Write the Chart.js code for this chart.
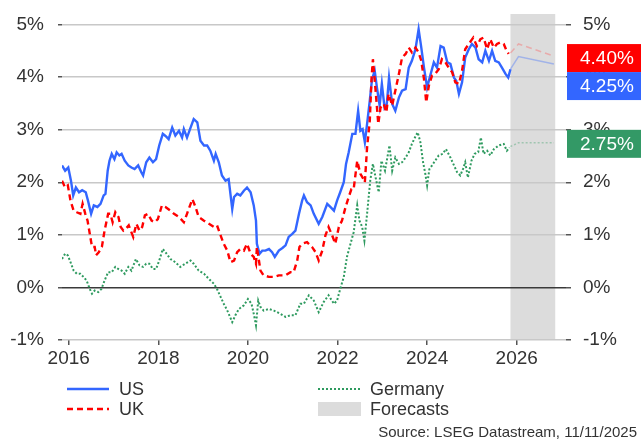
<!DOCTYPE html>
<html>
<head>
<meta charset="utf-8">
<script src="https://cdn.jsdelivr.net/npm/chart.js@4.4.1/dist/chart.umd.min.js"></script>
<style>
  html, body { margin: 0; padding: 0; background: #ffffff; }
  canvas { display: block; }
</style>
</head>
<body>
<canvas id="c" width="641" height="441"></canvas>
<script>
// ---- Data (decimal years, 10-year government bond yields, %) ----
const usDates = [2015.85,2015.92,2015.99,2016.05,2016.10,2016.16,2016.23,2016.30,2016.38,2016.43,2016.50,2016.56,2016.64,2016.71,2016.78,2016.82,2016.87,2016.91,2016.96,2017.02,2017.07,2017.13,2017.18,2017.25,2017.33,2017.40,2017.47,2017.55,2017.62,2017.66,2017.73,2017.80,2017.88,2017.95,2018.02,2018.10,2018.16,2018.23,2018.31,2018.38,2018.46,2018.53,2018.57,2018.64,2018.72,2018.79,2018.87,2018.94,2019.02,2019.09,2019.16,2019.24,2019.28,2019.35,2019.42,2019.50,2019.57,2019.65,2019.69,2019.76,2019.83,2019.91,2019.98,2020.06,2020.13,2020.18,2020.20,2020.26,2020.32,2020.39,2020.47,2020.54,2020.60,2020.69,2020.77,2020.84,2020.91,2020.99,2021.06,2021.14,2021.21,2021.25,2021.32,2021.40,2021.47,2021.58,2021.66,2021.77,2021.84,2021.92,2021.99,2022.06,2022.14,2022.19,2022.25,2022.33,2022.40,2022.46,2022.51,2022.56,2022.61,2022.66,2022.72,2022.77,2022.83,2022.88,2022.94,2022.99,2023.05,2023.10,2023.15,2023.22,2023.29,2023.37,2023.44,2023.52,2023.59,2023.66,2023.74,2023.81,2023.87,2023.93,2024.00,2024.07,2024.15,2024.22,2024.30,2024.37,2024.45,2024.52,2024.60,2024.65,2024.71,2024.78,2024.85,2024.93,2025.00,2025.08,2025.15,2025.23,2025.30,2025.38,2025.45,2025.52,2025.60,2025.67,2025.75,2025.81,2025.86];
const usYields = [2.32,2.22,2.28,2.03,1.75,1.90,1.81,1.85,1.81,1.65,1.40,1.56,1.53,1.59,1.75,1.78,2.22,2.41,2.54,2.44,2.57,2.51,2.54,2.41,2.32,2.28,2.25,2.32,2.19,2.13,2.38,2.47,2.38,2.44,2.70,2.92,2.88,2.82,3.04,2.89,2.98,2.85,3.01,2.85,3.04,3.20,3.14,2.79,2.70,2.70,2.60,2.41,2.54,2.38,2.13,2.03,2.06,1.49,1.72,1.78,1.75,1.84,1.90,1.81,1.56,1.27,0.83,0.64,0.70,0.70,0.73,0.67,0.58,0.70,0.75,0.80,0.96,1.02,1.08,1.40,1.65,1.75,1.62,1.56,1.40,1.21,1.34,1.59,1.53,1.46,1.65,1.81,2.00,2.35,2.57,2.92,2.92,3.36,2.98,3.01,2.76,3.11,3.55,3.96,4.12,3.80,3.46,3.87,3.42,3.49,3.99,3.49,3.36,3.61,3.74,3.77,4.18,4.31,4.53,4.91,4.56,4.18,3.80,4.03,4.28,4.18,4.59,4.56,4.28,4.25,3.99,3.93,3.68,3.90,4.37,4.53,4.63,4.56,4.34,4.28,4.50,4.31,4.50,4.31,4.28,4.18,4.06,3.99,4.15];

const ukDates = [2015.85,2015.92,2015.98,2016.04,2016.11,2016.18,2016.26,2016.31,2016.37,2016.42,2016.47,2016.52,2016.58,2016.61,2016.67,2016.74,2016.80,2016.88,2016.93,2016.98,2017.04,2017.11,2017.16,2017.22,2017.27,2017.34,2017.44,2017.51,2017.58,2017.64,2017.70,2017.77,2017.85,2017.92,2017.99,2018.08,2018.16,2018.27,2018.35,2018.46,2018.57,2018.64,2018.76,2018.83,2018.90,2019.02,2019.13,2019.24,2019.31,2019.39,2019.46,2019.54,2019.61,2019.69,2019.76,2019.83,2019.91,2019.98,2020.06,2020.13,2020.18,2020.20,2020.28,2020.35,2020.47,2020.58,2020.69,2020.84,2020.95,2021.02,2021.10,2021.15,2021.21,2021.32,2021.43,2021.51,2021.58,2021.66,2021.73,2021.80,2021.88,2021.95,2022.03,2022.10,2022.18,2022.25,2022.31,2022.36,2022.44,2022.51,2022.56,2022.61,2022.66,2022.72,2022.76,2022.79,2022.85,2022.91,2022.96,2023.03,2023.09,2023.14,2023.22,2023.29,2023.37,2023.44,2023.52,2023.59,2023.66,2023.74,2023.81,2023.87,2023.93,2023.98,2024.04,2024.11,2024.18,2024.26,2024.33,2024.41,2024.48,2024.56,2024.63,2024.71,2024.78,2024.85,2024.93,2025.03,2025.11,2025.19,2025.26,2025.34,2025.41,2025.49,2025.56,2025.64,2025.71,2025.76,2025.82];
const ukYields = [2.03,1.90,1.94,1.65,1.46,1.43,1.40,1.59,1.40,1.27,1.02,0.77,0.77,0.61,0.67,0.77,1.08,1.40,1.40,1.24,1.43,1.34,1.15,1.08,1.11,1.18,0.96,1.21,1.08,1.15,1.37,1.40,1.27,1.24,1.30,1.56,1.53,1.46,1.40,1.34,1.24,1.40,1.68,1.53,1.34,1.27,1.21,1.15,1.18,0.99,0.83,0.70,0.48,0.51,0.67,0.73,0.70,0.83,0.64,0.58,0.45,0.77,0.32,0.23,0.20,0.20,0.23,0.23,0.29,0.29,0.51,0.77,0.83,0.86,0.77,0.67,0.51,0.70,0.99,1.15,0.99,0.83,1.15,1.27,1.53,1.72,1.87,1.87,2.41,2.16,2.09,2.00,2.66,3.17,3.99,4.34,3.74,3.11,3.42,3.49,3.33,3.68,3.46,3.74,4.06,4.37,4.44,4.56,4.47,4.56,4.47,4.31,3.96,3.52,3.84,4.03,4.06,4.15,4.34,4.28,4.18,4.09,3.90,3.87,4.12,4.53,4.63,4.75,4.59,4.72,4.75,4.53,4.72,4.56,4.63,4.66,4.63,4.53,4.44];

const deDates = [2015.85,2015.92,2015.98,2016.04,2016.11,2016.18,2016.26,2016.33,2016.40,2016.47,2016.52,2016.58,2016.66,2016.73,2016.80,2016.88,2016.96,2017.04,2017.11,2017.18,2017.25,2017.33,2017.40,2017.50,2017.58,2017.66,2017.73,2017.80,2017.88,2017.95,2018.02,2018.10,2018.16,2018.27,2018.38,2018.49,2018.60,2018.72,2018.79,2018.90,2019.02,2019.13,2019.24,2019.31,2019.39,2019.46,2019.54,2019.65,2019.72,2019.80,2019.91,2020.00,2020.08,2020.13,2020.18,2020.23,2020.28,2020.35,2020.47,2020.58,2020.72,2020.84,2020.95,2021.06,2021.17,2021.25,2021.36,2021.47,2021.58,2021.69,2021.80,2021.92,2021.99,2022.06,2022.14,2022.21,2022.29,2022.36,2022.44,2022.49,2022.55,2022.60,2022.66,2022.73,2022.79,2022.85,2022.92,2022.98,2023.06,2023.16,2023.22,2023.29,2023.37,2023.44,2023.52,2023.59,2023.66,2023.75,2023.79,2023.85,2023.91,2023.96,2024.00,2024.05,2024.11,2024.18,2024.26,2024.35,2024.42,2024.52,2024.60,2024.67,2024.74,2024.80,2024.85,2024.91,2024.99,2025.06,2025.14,2025.20,2025.26,2025.34,2025.41,2025.49,2025.60,2025.71,2025.78,2025.84];
const deYields = [0.54,0.64,0.61,0.48,0.32,0.26,0.26,0.20,0.13,-0.03,-0.12,-0.06,-0.09,-0.03,0.13,0.29,0.29,0.39,0.35,0.32,0.26,0.39,0.32,0.54,0.42,0.39,0.45,0.45,0.35,0.35,0.51,0.73,0.67,0.54,0.48,0.39,0.45,0.51,0.45,0.32,0.26,0.16,0.07,-0.03,-0.18,-0.31,-0.44,-0.66,-0.53,-0.41,-0.34,-0.22,-0.31,-0.50,-0.72,-0.25,-0.37,-0.44,-0.41,-0.44,-0.50,-0.56,-0.53,-0.53,-0.31,-0.31,-0.15,-0.25,-0.47,-0.28,-0.15,-0.31,-0.25,-0.03,0.20,0.58,0.83,1.05,1.56,1.27,1.15,0.89,1.40,2.03,2.35,2.09,1.81,2.41,2.22,2.70,2.22,2.47,2.35,2.38,2.47,2.57,2.73,2.89,2.95,2.76,2.38,2.16,1.94,2.25,2.32,2.41,2.51,2.54,2.63,2.47,2.32,2.19,2.13,2.25,2.38,2.09,2.41,2.54,2.57,2.85,2.54,2.60,2.51,2.63,2.70,2.73,2.60,2.66];

const forecastDates = [2025.86, 2026.04, 2026.83];
const usForecast = [4.15, 4.39, 4.25];
const ukForecast = [4.46, 4.63, 4.40];
const deForecast = [2.68, 2.75, 2.75];

const forecastBand = [2025.86, 2026.86];
const xTickValues = [2016, 2018, 2020, 2022, 2024, 2026];
const yTickValues = [-1, 0, 1, 2, 3, 4, 5];
const endLabels = ['4.40%', '4.25%', '2.75%'];
const endLabelValues = [4.40, 4.25, 2.75];
const seriesNames = ['US', 'UK', 'Germany', 'Forecasts'];
const sourceText = 'Source: LSEG Datastream, 11/11/2025';

// ---- Styling ----
const BLUE = '#3366ff', RED = '#ff0000', GREEN = '#2e9a5f', GREEN_BOX = '#339966';
const TEXT = '#333333';
const FONT = "'Liberation Sans', Arial, sans-serif";

const pts = (xs, ys) => xs.map((x, i) => ({ x: x, y: ys[i] }));

const bandPlugin = {
  id: 'band',
  beforeDraw(chart) {
    const { ctx, chartArea, scales } = chart;
    const x0 = scales.x.getPixelForValue(forecastBand[0]);
    const x1 = scales.x.getPixelForValue(forecastBand[1]);
    ctx.save();
    ctx.fillStyle = '#dcdcdc';
    ctx.fillRect(x0, chartArea.top, x1 - x0, chartArea.bottom - chartArea.top);
    ctx.restore();
  }
};

const overlayPlugin = {
  id: 'overlay',
  afterDraw(chart) {
    const { ctx, chartArea, scales } = chart;
    const y = scales.y;
    const W = chart.width;
    const bx = chartArea.right + 1;
    const bh = 28;
    ctx.save();
    // end-value boxes
    const redTop = y.getPixelForValue(endLabelValues[0]) - bh / 2 + 2;
    const blueTop = redTop + bh;
    const greenTop = y.getPixelForValue(endLabelValues[2]) - bh / 2 + 1;
    const boxes = [[redTop, RED, endLabels[0]], [blueTop, BLUE, endLabels[1]], [greenTop, GREEN_BOX, endLabels[2]]];
    ctx.font = '19px ' + FONT;
    ctx.textBaseline = 'middle';
    ctx.textAlign = 'left';
    for (const [top, col, txt] of boxes) {
      ctx.fillStyle = col;
      ctx.fillRect(bx, top, W - bx, bh);
      ctx.fillStyle = '#ffffff';
      ctx.fillText(txt, bx + 13, top + bh / 2 + 1);
    }
    // legend
    ctx.lineWidth = 2.5;
    const row1 = 389, row2 = 409;
    const drawLine = (x0, x1, yy, col, dash) => {
      ctx.beginPath();
      ctx.setLineDash(dash);
      ctx.strokeStyle = col;
      ctx.moveTo(x0, yy); ctx.lineTo(x1, yy);
      ctx.stroke();
      ctx.setLineDash([]);
    };
    drawLine(67, 109, row1, BLUE, []);
    drawLine(67, 109, row2, RED, [6, 4]);
    ctx.lineWidth = 2;
    drawLine(318, 361, row1, GREEN, [2, 2]);
    ctx.fillStyle = '#dcdcdc';
    ctx.fillRect(318, 402, 43, 14);
    ctx.fillStyle = TEXT;
    ctx.font = '18px ' + FONT;
    ctx.fillText(seriesNames[0], 119, row1 + 1);
    ctx.fillText(seriesNames[1], 119, row2 + 1);
    ctx.fillText(seriesNames[2], 370, row1 + 1);
    ctx.fillText(seriesNames[3], 370, row2 + 1);
    // source
    ctx.font = '15px ' + FONT;
    ctx.textAlign = 'right';
    ctx.fillText(sourceText, 637, 433);
    ctx.restore();
  }
};

const tickFont = { family: FONT, size: 19 };

new Chart(document.getElementById('c'), {
  type: 'line',
  data: {
    datasets: [
      { data: pts(ukDates, ukYields), borderColor: RED, borderWidth: 2.4, borderDash: [6, 4], pointRadius: 0, fill: false, tension: 0 },
      { data: pts(usDates, usYields), borderColor: BLUE, borderWidth: 2.4, pointRadius: 0, fill: false, tension: 0 },
      { data: pts(deDates, deYields), borderColor: GREEN, borderWidth: 2, borderDash: [2, 2], pointRadius: 0, fill: false, tension: 0 },
      { data: pts(forecastDates, ukForecast), borderColor: 'rgba(255,80,80,0.35)', borderWidth: 1.5, borderDash: [6, 4], pointRadius: 0, fill: false, tension: 0 },
      { data: pts(forecastDates, usForecast), borderColor: 'rgba(51,102,255,0.35)', borderWidth: 1.5, pointRadius: 0, fill: false, tension: 0 },
      { data: pts(forecastDates, deForecast), borderColor: 'rgba(46,154,95,0.35)', borderWidth: 1.5, borderDash: [2, 2], pointRadius: 0, fill: false, tension: 0 }
    ]
  },
  options: {
    responsive: false,
    devicePixelRatio: 1,
    animation: false,
    layout: { padding: { top: 14, bottom: 75, left: 0, right: 0 } },
    plugins: { legend: { display: false }, tooltip: { enabled: false } },
    scales: {
      x: {
        type: 'linear',
        min: 2015.85,
        max: 2027.1,
        afterBuildTicks: (s) => { s.ticks = xTickValues.map(v => ({ value: v })); },
        afterFit: (s) => { s.height = 26; s.paddingLeft = 0; s.paddingRight = 0; },
        ticks: { font: tickFont, color: TEXT, padding: 2, maxRotation: 0, callback: (v) => String(v) },
        grid: { drawOnChartArea: false, drawTicks: true, tickLength: 5, tickColor: '#555555', lineWidth: 1.5 },
        border: { display: false }
      },
      y: {
        position: 'left',
        min: -1,
        max: 5.2,
        afterBuildTicks: (s) => { s.ticks = yTickValues.map(v => ({ value: v })); },
        afterFit: (s) => { s.width = 62; s.paddingTop = 0; s.paddingBottom = 0; },
        ticks: { font: tickFont, color: TEXT, padding: 14, callback: (v) => v + '%' },
        grid: {
          color: (c) => (c.tick && c.tick.value === 0) ? '#3a3a3a' : '#c8c8c8',
          lineWidth: 1.5,
          tickLength: 4,
          tickColor: '#555555'
        },
        border: { display: false }
      },
      y2: {
        position: 'right',
        min: -1,
        max: 5.2,
        afterBuildTicks: (s) => { s.ticks = yTickValues.map(v => ({ value: v })); },
        afterFit: (s) => { s.width = 75; s.paddingTop = 0; s.paddingBottom = 0; },
        ticks: { font: tickFont, color: TEXT, padding: 12, callback: (v) => v + '%' },
        grid: { drawOnChartArea: false, tickLength: 5, tickColor: '#555555', lineWidth: 1.5 },
        border: { display: false }
      }
    }
  },
  plugins: [bandPlugin, overlayPlugin]
});
</script>
</body>
</html>
